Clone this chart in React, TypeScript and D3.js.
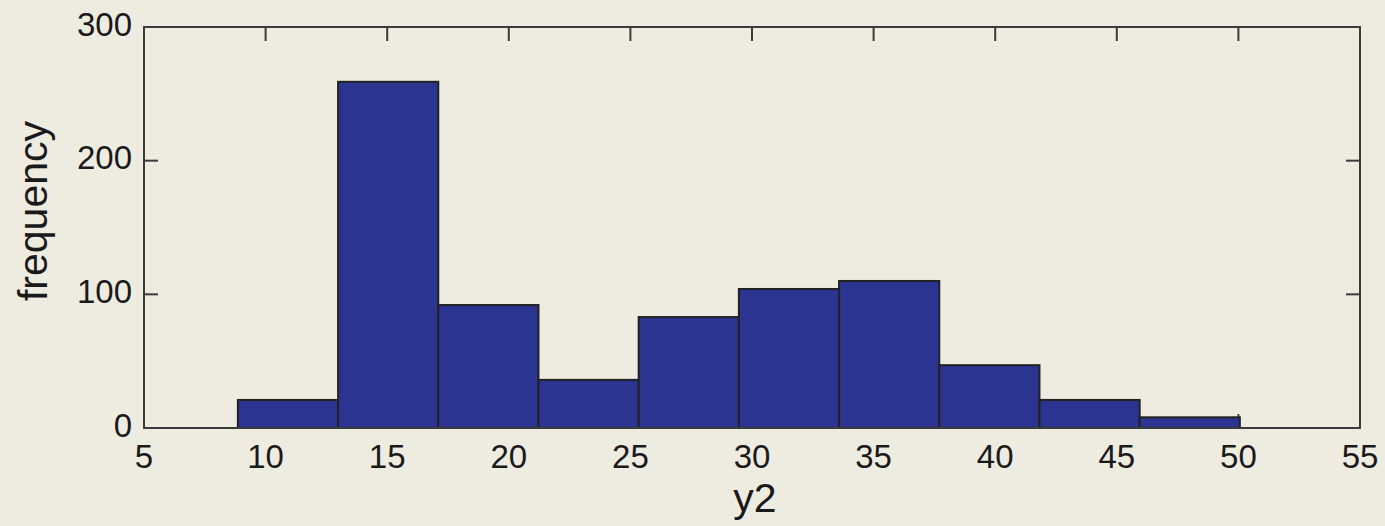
import React from "react";
import * as d3 from "d3";

// Histogram of y2: bin edges and counts per bin
const binEdges = [8.86, 12.98, 17.1, 21.22, 25.34, 29.46, 33.58, 37.7, 41.82, 45.94, 50.06];
const counts = [21, 259, 92, 36, 83, 104, 110, 47, 21, 8];
const xTicks = [5, 10, 15, 20, 25, 30, 35, 40, 45, 50, 55];
const yTicks = [0, 100, 200, 300];

const W = 1385;
const H = 526;
const box = { left: 144, right: 1360, top: 27, bottom: 428 };

const BG = "#EEEBE1";
const AXIS = "#3a3a3a";
const BAR = "#2B3491";
const EDGE = "#222222";
const FONT = "'Liberation Sans', Arial, sans-serif";

export default function App() {
  const x = d3.scaleLinear().domain([5, 55]).range([box.left, box.right]);
  const y = d3.scaleLinear().domain([0, 300]).range([box.bottom, box.top]);

  const bins = counts.map((c, i) => ({ x0: binEdges[i], x1: binEdges[i + 1], c }));
  const tickLen = 14;

  return (
    <svg
      width={W}
      height={H}
      style={{ position: "absolute", left: 0, top: 0, background: BG }}
    >
      <rect x={0} y={0} width={W} height={H} fill={BG} />

      {/* inward ticks on top/bottom and left/right */}
      <g stroke={AXIS} strokeWidth={2}>
        {xTicks.map((t) => (
          <g key={"xt" + t}>
            <line x1={x(t)} x2={x(t)} y1={box.top} y2={box.top + tickLen} />
            <line x1={x(t)} x2={x(t)} y1={box.bottom} y2={box.bottom - tickLen} />
          </g>
        ))}
        {yTicks.map((t) => (
          <g key={"yt" + t}>
            <line x1={box.left} x2={box.left + tickLen} y1={y(t)} y2={y(t)} />
            <line x1={box.right} x2={box.right - tickLen} y1={y(t)} y2={y(t)} />
          </g>
        ))}
      </g>

      {/* bars */}
      <g>
        {bins.map((b, i) => (
          <rect
            key={i}
            x={x(b.x0)}
            y={y(b.c)}
            width={x(b.x1) - x(b.x0)}
            height={y(0) - y(b.c)}
            fill={BAR}
            stroke={EDGE}
            strokeWidth={2}
          />
        ))}
      </g>

      {/* axes box */}
      <rect
        x={box.left}
        y={box.top}
        width={box.right - box.left}
        height={box.bottom - box.top}
        fill="none"
        stroke={AXIS}
        strokeWidth={2}
      />

      {/* tick labels */}
      <g fontFamily={FONT} fontSize={33} fill="#1a1a1a">
        {xTicks.map((t) => (
          <text key={"xl" + t} x={x(t)} y={468} textAnchor="middle">
            {t}
          </text>
        ))}
        {yTicks.map((t) => (
          <text
            key={"yl" + t}
            x={132}
            y={y(t) - 3}
            textAnchor="end"
            dominantBaseline="central"
          >
            {t}
          </text>
        ))}
      </g>

      {/* axis labels */}
      <text
        x={(box.left + box.right) / 2 + 3}
        y={512}
        textAnchor="middle"
        fontFamily={FONT}
        fontSize={41}
        fill="#1a1a1a"
      >
        y2
      </text>
      <text
        transform={`translate(47, ${211}) rotate(-90)`}
        textAnchor="middle"
        fontFamily={FONT}
        fontSize={41}
        fill="#1a1a1a"
      >
        frequency
      </text>
    </svg>
  );
}
